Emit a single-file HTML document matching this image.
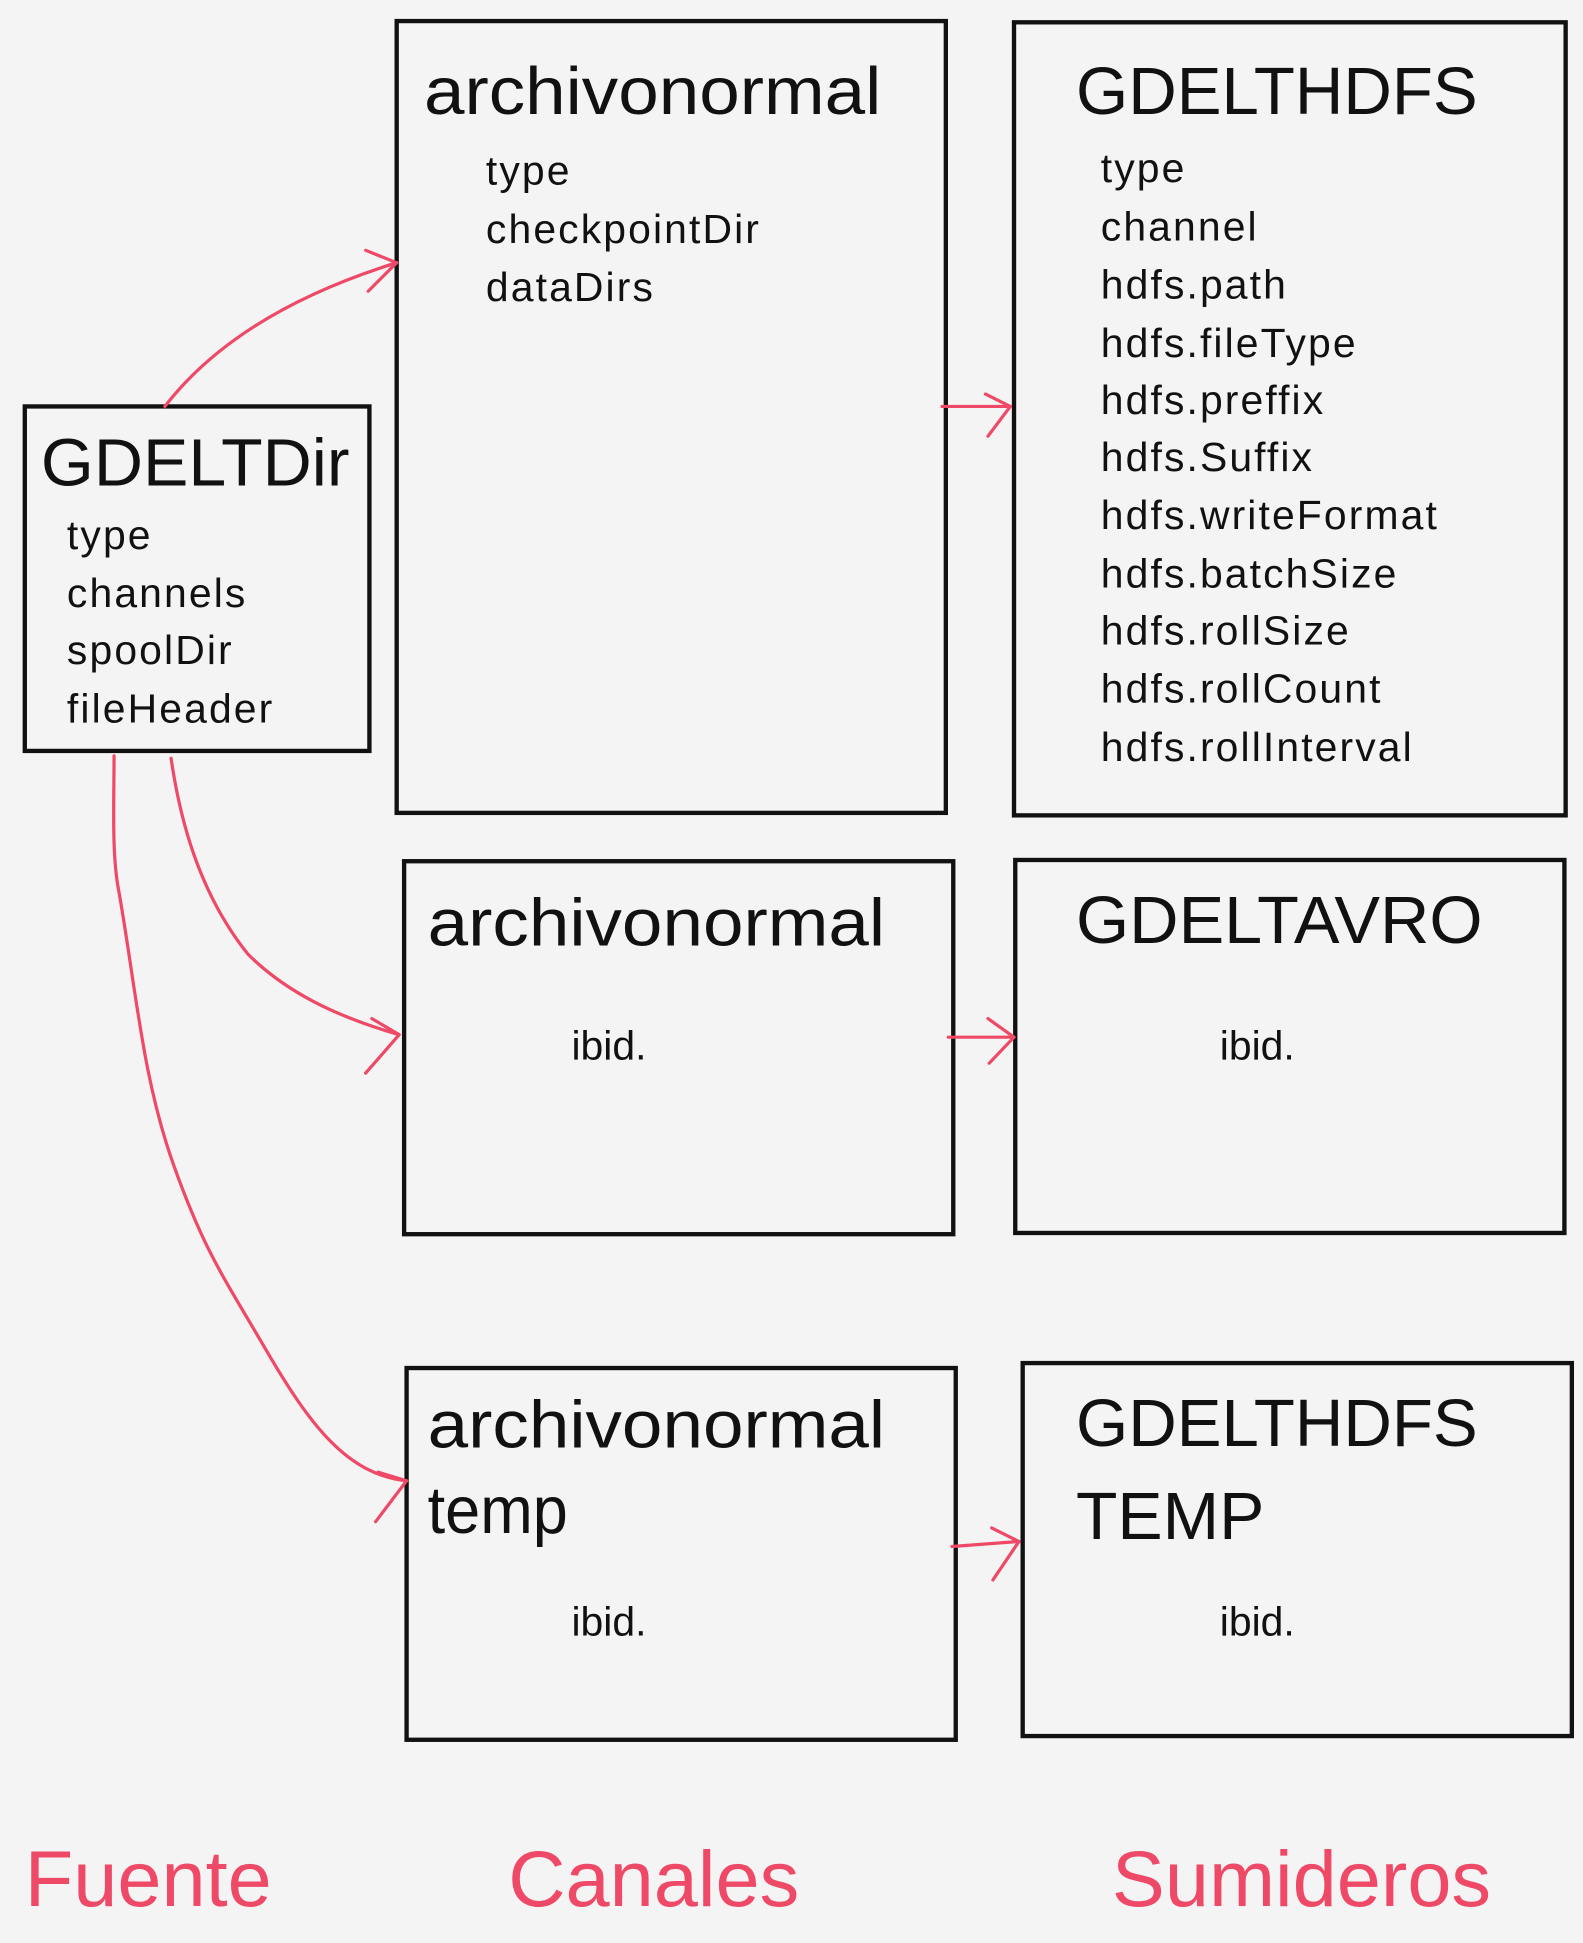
<!DOCTYPE html>
<html><head><meta charset="utf-8"><style>
html,body{margin:0;padding:0;background:#f4f4f4;}
svg{display:block}
text{font-family:"Liberation Sans",sans-serif;fill:#111}
.t{font-size:54px}
.i{font-size:33px;letter-spacing:1.7px}
.b{font-size:33px}
.p{fill:#ee4a67;font-size:64px}
rect{fill:none;stroke:#111;stroke-width:3.5}
path{fill:none;stroke:#ee4a67;stroke-width:2.6;stroke-linecap:round;stroke-linejoin:round}
</style></head><body>
<svg width="1583" height="1943" viewBox="0 0 1277 1568" preserveAspectRatio="none">
<rect x="20" y="328" width="278" height="278"/>
<text class="t" x="33" y="392" textLength="249" lengthAdjust="spacingAndGlyphs">GDELTDir</text>
<text class="i" x="54" y="443">type</text>
<text class="i" x="54" y="490">channels</text>
<text class="i" x="54" y="536">spoolDir</text>
<text class="i" x="54" y="583">fileHeader</text>

<rect x="320" y="17" width="443" height="639"/>
<text class="t" x="342" y="92" textLength="369" lengthAdjust="spacingAndGlyphs">archivonormal</text>
<text class="i" x="392" y="149">type</text>
<text class="i" x="392" y="196">checkpointDir</text>
<text class="i" x="392" y="243">dataDirs</text>

<rect x="818" y="18" width="445" height="640"/>
<text class="t" x="868" y="92" textLength="324" lengthAdjust="spacingAndGlyphs">GDELTHDFS</text>
<text class="i" x="888" y="147">type</text>
<text class="i" x="888" y="194">channel</text>
<text class="i" x="888" y="241">hdfs.path</text>
<text class="i" x="888" y="288">hdfs.fileType</text>
<text class="i" x="888" y="334">hdfs.preffix</text>
<text class="i" x="888" y="380">hdfs.Suffix</text>
<text class="i" x="888" y="427">hdfs.writeFormat</text>
<text class="i" x="888" y="474">hdfs.batchSize</text>
<text class="i" x="888" y="520">hdfs.rollSize</text>
<text class="i" x="888" y="567">hdfs.rollCount</text>
<text class="i" x="888" y="614">hdfs.rollInterval</text>

<rect x="326" y="695" width="443" height="301"/>
<text class="t" x="345" y="763" textLength="369" lengthAdjust="spacingAndGlyphs">archivonormal</text>
<text class="b" x="461" y="855">ibid.</text>

<rect x="819" y="694" width="443" height="301"/>
<text class="t" x="868" y="761" textLength="328" lengthAdjust="spacingAndGlyphs">GDELTAVRO</text>
<text class="b" x="984" y="855">ibid.</text>

<rect x="328" y="1104" width="443" height="300"/>
<text class="t" x="345" y="1168" textLength="369" lengthAdjust="spacingAndGlyphs">archivonormal</text>
<text class="t" x="345" y="1237" textLength="113" lengthAdjust="spacingAndGlyphs">temp</text>
<text class="b" x="461" y="1320">ibid.</text>

<rect x="825" y="1100" width="443" height="301"/>
<text class="t" x="868" y="1167" textLength="324" lengthAdjust="spacingAndGlyphs">GDELTHDFS</text>
<text class="t" x="868" y="1242" textLength="152" lengthAdjust="spacingAndGlyphs">TEMP</text>
<text class="b" x="984" y="1320">ibid.</text>

<text class="p" x="20" y="1538">Fuente</text>
<text class="p" x="410" y="1538">Canales</text>
<text class="p" x="897" y="1538">Sumideros</text>

<path d="M133,328 C170,280 230,240 320,212"/>
<path d="M295,202 L320,212 L297,235"/>
<path d="M138,612 C145,660 160,720 200,770 C230,800 270,820 322,835"/>
<path d="M300,822 L322,835 L295,866"/>
<path d="M92,610 C92,650 90,690 96,720 C110,800 115,870 140,940 C165,1010 180,1030 215,1090 C250,1150 280,1190 328,1195"/>
<path d="M305,1188 L328,1195 L303,1228"/>
<path d="M760,328 L815,328"/>
<path d="M795,318 L815,328 L797,352"/>
<path d="M765,837 L818,837"/>
<path d="M797,822 L818,837 L798,858"/>
<path d="M768,1248 L822,1244"/>
<path d="M800,1233 L822,1244 L801,1275"/>
</svg>
</body></html>
